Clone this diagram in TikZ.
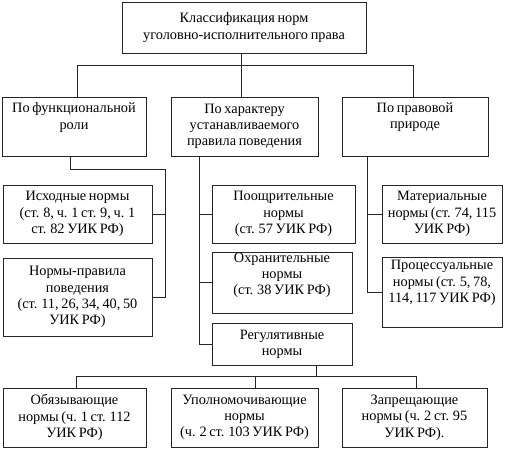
\documentclass[tikz,border=0pt]{standalone}
\usepackage{fontspec}
\setmainfont{Liberation Serif}[WordSpace=0.75]
\begin{document}
\begin{tikzpicture}[x=1pt,y=-1pt,
  box/.style={draw=black!85, line width=0.9pt, align=center, inner sep=0pt,
    font=\fontsize{14.3}{16.3}\selectfont},
  conn/.style={draw=black!85, line width=0.9pt}]
\useasboundingbox (0,0) rectangle (508,450);
% top
\node[box, minimum width=244, minimum height=51] (top) at (244,27.5) {Классификация норм\\уголовно-исполнительного права};
% second row
\node[box, minimum width=144, minimum height=59] (b1) at (74,126.5) {По функциональной\\роли\\\strut};
\node[box, minimum width=147, minimum height=59] (b2) at (244.5,126.5) {По характеру\\устанавливаемого\\правила поведения};
\node[box, minimum width=146, minimum height=59] (b3) at (415,126.5) {По правовой\\природе\\\strut};
% left column
\node[box, minimum width=149, minimum height=58] (n1) at (77.5,214) {Исходные нормы\\(ст. 8, ч. 1 ст. 9, ч. 1\\ст. 82 УИК РФ)};
\node[box, minimum width=149, minimum height=78] (n2) at (77.5,297) {Нормы-правила\\поведения\\(ст. 11, 26, 34, 40, 50\\УИК РФ)};
% middle column
\node[box, minimum width=143, minimum height=58] (poo) at (283.5,214) {Поощрительные\\нормы\\(ст. 57 УИК РФ)};
\node[box, minimum width=140, minimum height=61] (okh) at (282,282.5) {Охранительные\\нормы\\(ст. 38 УИК РФ)\\[-4pt]\strut};
\node[box, minimum width=140, minimum height=42] (reg) at (282,344) {Регулятивные\\нормы};
% right column
\node[box, minimum width=120, minimum height=58] (mat) at (442,214) {Материальные\\нормы (ст. 74, 115\\УИК РФ)};
\node[box, minimum width=120, minimum height=70] (proc) at (442,292) {Процессуальные\\нормы (ст. 5, 78,\\114, 117 УИК РФ)\\\strut};
% bottom row
\node[box, minimum width=143, minimum height=59] (c1) at (74.5,417.5) {Обязывающие\\нормы (ч. 1 ст. 112\\УИК РФ)};
\node[box, minimum width=147, minimum height=59] (c2) at (244.5,417.5) {Уполномочивающие\\нормы\\(ч. 2 ст. 103 УИК РФ)};
\node[box, minimum width=145, minimum height=59] (c3) at (414.5,417.5) {Запрещающие\\нормы (ч. 2 ст. 95\\УИК РФ).};
% coordinates
\coordinate (j0) at (241,65);
\coordinate (hL) at (77,65);
\coordinate (hR) at (413,65);
\coordinate (lc) at (70,169);
\coordinate (Lx) at (165,169);
\coordinate (Mx) at (199,0);
\coordinate (Rx) at (367,0);
\coordinate (rb) at (316,376);
\coordinate (bL) at (76,376);
\coordinate (bR) at (416,376);
\coordinate (bM) at (255,376);
% connectors
\draw[conn] (top.south -| j0) -- (b2.north -| j0);
\draw[conn] (b1.north -| hL) |- (hR) -- (b3.north -| hR);
\draw[conn] (b1.south -| lc) -- (lc) -- (Lx) -- (n2.east -| Lx) -- (n2.east);
\draw[conn] (n1.east) -- (n1.east -| Lx);
\draw[conn] (b2.south -| Mx) |- (reg.west);
\draw[conn] (poo.west -| Mx) -- (poo.west);
\draw[conn] (okh.west -| Mx) -- (okh.west);
\draw[conn] (b3.south -| Rx) |- (proc.west);
\draw[conn] (mat.west -| Rx) -- (mat.west);
\draw[conn] (reg.south -| rb) -- (rb);
\draw[conn] (c1.north -| bL) |- (bR) -- (c3.north -| bR);
\draw[conn] (c2.north -| bM) -- (bM);
\end{tikzpicture}
\end{document}
